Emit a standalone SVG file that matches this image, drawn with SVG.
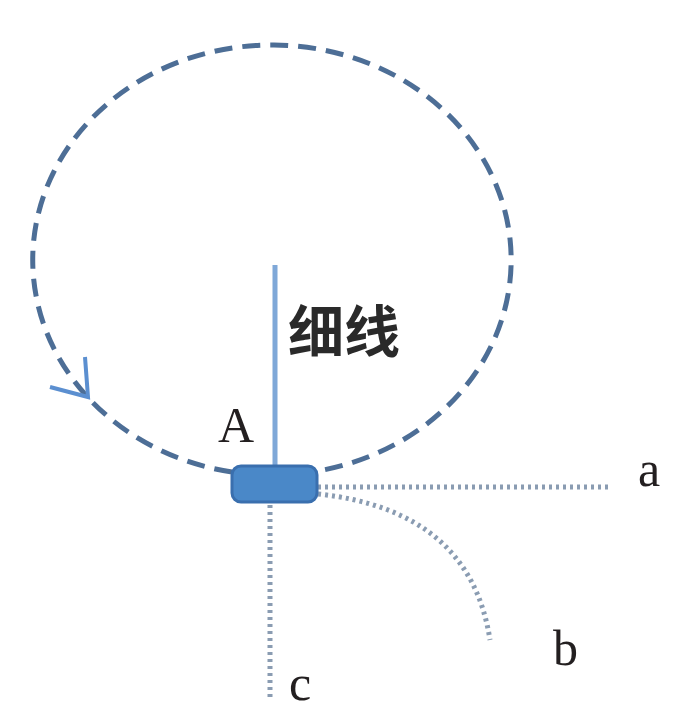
<svg xmlns="http://www.w3.org/2000/svg" width="675" height="713" viewBox="0 0 675 713">
<style>
.loop{fill:none;stroke:#4d6e96;stroke-width:5;stroke-dasharray:18 10}
.dot{fill:none;stroke:#8a9cb2;stroke-width:5;stroke-dasharray:3 4}
.lbl{font-family:"Liberation Serif",serif;font-size:50px;fill:#231f20}
.cjk{font-family:"Noto Sans CJK SC",sans-serif;font-size:56px;font-weight:bold;fill:#2a2a2a}
</style>
<rect width="675" height="713" fill="#fff"/>
<g id="connectors">
<path class="loop" d="M232,472 A239,215 0 0 1 274,45 A239,215 0 0 1 318,471"/>
<path d="M50,387 L88,397 L85,357" fill="none" stroke="#5b8fd0" stroke-width="4"/>
<line x1="275" y1="265" x2="275" y2="468" stroke="#7fa8d8" stroke-width="5"/>
<line class="dot" x1="318" y1="487" x2="612" y2="487"/>
<path class="dot" d="M318,494 Q470,510 490,640"/>
<line class="dot" x1="270" y1="505" x2="270" y2="698"/>
</g>
<g id="node-A">
<rect x="232" y="466" width="85" height="36" rx="9" fill="#4a88c8" stroke="#3a6fae" stroke-width="3"/>
<text class="lbl" x="218" y="442">A</text>
</g>
<g id="label-thin">
<text class="cjk" x="288" y="352">细线</text>
</g>
<g id="label-a"><text class="lbl" x="638" y="486">a</text></g>
<g id="label-b"><text class="lbl" x="553" y="665">b</text></g>
<g id="label-c"><text class="lbl" x="289" y="700">c</text></g>
</svg>
